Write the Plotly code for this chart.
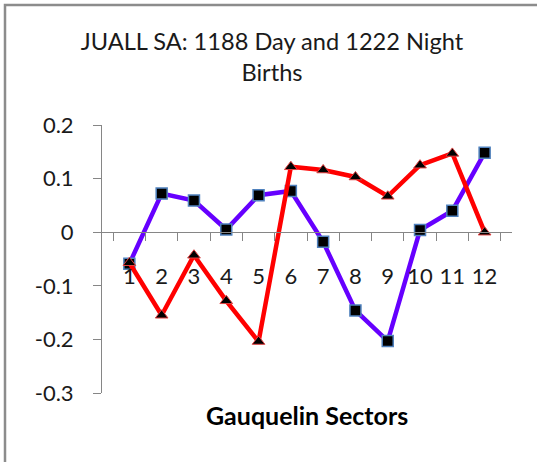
import plotly.graph_objects as go

sectors = [str(i) for i in range(1, 13)]
day_values = [-0.059, 0.072, 0.059, 0.005, 0.069, 0.077, -0.018, -0.146, -0.203, 0.004, 0.040, 0.148]
night_values = [-0.057, -0.155, -0.043, -0.128, -0.204, 0.122, 0.116, 0.103, 0.067, 0.125, 0.147, 0.000]
y_tick_vals = [0.2, 0.1, 0.0, -0.1, -0.2, -0.3]
y_tick_text = ["0.2", "0.1", "0", "-0.1", "-0.2", "-0.3"]

W, H = 537, 462
ML, MR, MT, MB = 102, 25, 125, 69
PW, PH = W - ML - MR, H - MT - MB

def px_x(px):
    return (px - ML) / PW

def px_y(py):
    return (H - MB - py) / PH

FONT = "Lato"
AXIS_COLOR = "#868686"
TEXT_COLOR = "#1a1a1a"

fig = go.Figure()
fig.add_trace(go.Scatter(
    x=sectors, y=day_values, name="1188 Day", mode="lines+markers",
    line=dict(color="#6600FF", width=4.5),
    marker=dict(symbol="square", size=11, color="black", line=dict(color="#4F81BD", width=1.5)),
))
fig.add_trace(go.Scatter(
    x=sectors, y=night_values, name="1222 Night", mode="lines+markers",
    line=dict(color="#FF0000", width=4.5),
    marker=dict(symbol="triangle-up", size=11, color="black", line=dict(color="#E04040", width=1)),
))
# invisible helper trace so the tick-mark overlay axis gets drawn
fig.add_trace(go.Scatter(
    x=[sectors[0]], y=[0], yaxis="y2", mode="markers",
    marker=dict(opacity=0), hoverinfo="skip", showlegend=False,
))

fig.update_layout(
    width=W, height=H,
    margin=dict(l=ML, r=MR, t=MT, b=MB, autoexpand=False),
    paper_bgcolor="white", plot_bgcolor="white",
    showlegend=False,
    font=dict(family=FONT, color="black"),
    title=dict(
        text="JUALL SA: 1188 Day and 1222 Night<br>Births",
        x=272 / W, xanchor="center", xref="container",
        y=1 - 50 / H, yanchor="top", yref="container",
        font=dict(family=FONT, size=23.6, color=TEXT_COLOR),
    ),
    xaxis=dict(
        type="category", anchor="free", position=0.6,
        showline=True, linecolor=AXIS_COLOR, linewidth=1,
        ticks="outside", tickson="boundaries", ticklen=8, tickcolor=AXIS_COLOR,
        showgrid=False, zeroline=False, tickangle=0, automargin=False,
        tickfont=dict(family=FONT, size=22, color=TEXT_COLOR),
        ticklabelstandoff=24,
    ),
    # labels axis: long transparent ticks push labels away from the axis line
    yaxis=dict(
        range=[-0.3, 0.2], tickvals=y_tick_vals, ticktext=y_tick_text,
        showline=True, linecolor=AXIS_COLOR, linewidth=1,
        ticks="outside", ticklen=23, tickcolor="rgba(0,0,0,0)",
        showgrid=False, zeroline=False, automargin=False,
        tickfont=dict(family=FONT, size=22, color=TEXT_COLOR),
    ),
    # overlay axis that draws the short visible tick marks
    yaxis2=dict(
        range=[-0.3, 0.2], tickvals=y_tick_vals, overlaying="y", side="left",
        showline=False, ticks="outside", ticklen=8, tickcolor=AXIS_COLOR,
        showticklabels=False, showgrid=False, zeroline=False, automargin=False,
    ),
    shapes=[dict(
        type="path", xref="paper", yref="paper",
        path=f"M {px_x(5)} {px_y(H + 5)} L {px_x(5)} {px_y(5)} L {px_x(W + 5)} {px_y(5)}",
        line=dict(color="#8c8c8c", width=2.5),
    )],
    annotations=[dict(
        text="<b>Gauquelin Sectors</b>", xref="paper", yref="paper",
        x=px_x(307), y=px_y(415), xanchor="center", yanchor="middle",
        showarrow=False, font=dict(family=FONT, size=25, color="black"),
    )],
)

fig.write_html(
    "out.html",
    config={"displayModeBar": False},
    post_script="document.body.style.margin='0';",
)
